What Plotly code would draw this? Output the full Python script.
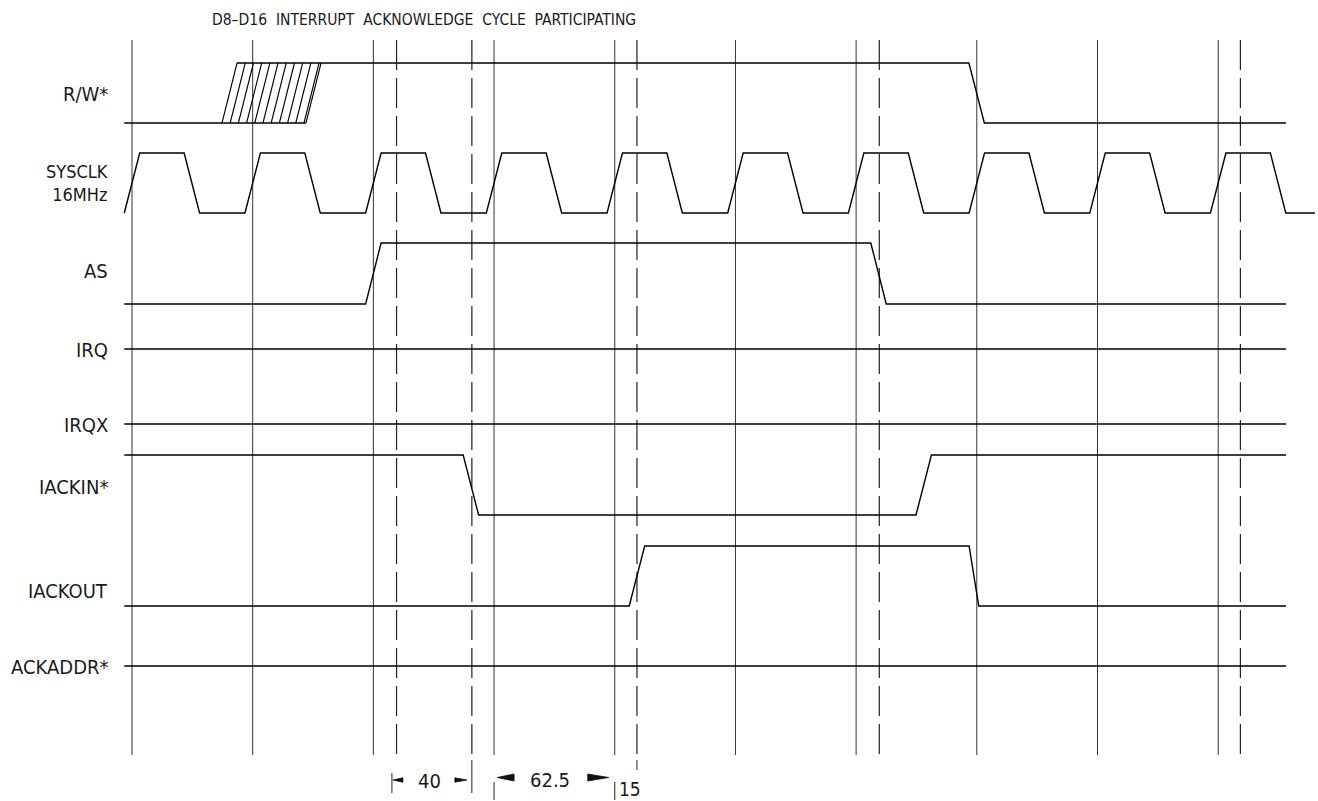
import plotly.graph_objects as go

# ---------------- data (times in ns, 16 MHz clock = 62.5 ns period) ----------------
title_text = "D8\u2013D16  INTERRUPT  ACKNOWLEDGE  CYCLE  PARTICIPATING"
signal_labels = ["R/W*", "SYSCLK<br>16MHz", "AS", "IRQ", "IRQX", "IACKIN*", "IACKOUT", "ACKADDR*"]

clk_rise_ns = [0, 62.5, 125, 187.5, 250, 312.5, 375, 437.5, 500, 562.5]
clk_fall_ns = [31, 93.5, 156, 218.5, 281, 343.5, 406, 468.5, 531, 593.5]

solid_marker_ns = [0, 62.5, 125, 187.5, 250, 312.5, 375, 437.5, 500, 562.5]
dashed_marker_ns = [137, 176, 261.5, 387, 574]

rw_undefined_ns = [46.6, 90.1]     # hatched (don't care) transition, low side
rw_edges_ns = [437.4]              # high -> low
as_edges_ns = [125, 386.6]         # low -> high -> low
iackin_edges_ns = [175.5, 410]     # high -> low -> high
iackout_edges_ns = [261.5, 436]    # low -> high -> low

dim_tick_ns = [134.6, 176, 187.5, 250, 261.5]
dim_labels = ["40", "62.5", "15"]

# ---------------- layout / style ----------------
W, H = 1318, 801
PX0 = 132.0          # pixel of t = 0
PXNS = 1.931         # pixels per ns
T_START, T_END, T_CLK_END = -4.0, 597.6, 612.6
EDGE = 8.0
SKEW = 7.8

rows = {              # (low level, high level) in page pixels
    "R/W*": (123, 63),
    "SYSCLK": (213, 153),
    "AS": (304, 243),
    "IRQ": (349, 349),
    "IRQX": (424, 424),
    "IACKIN*": (515, 455),
    "IACKOUT": (606, 546),
    "ACKADDR*": (666, 666),
}
label_y = {"R/W*": 94, "SYSCLK<br>16MHz": 183, "AS": 271, "IRQ": 350,
           "IRQX": 425, "IACKIN*": 486.5, "IACKOUT": 590.5, "ACKADDR*": 666.5}
label_size = {"SYSCLK<br>16MHz": 18}

FONT = "Liberation Sans Narrow, DejaVu Sans Condensed, Arial Narrow, Liberation Sans, sans-serif"
SIG = dict(color="#000000", width=1.4)
TXT = "#1a1a1a"


def lvl(name, state):
    lo, hi = rows[name]
    return lo - state * (lo - hi)


def wave(name, init, edges, widths=None):
    if widths is None:
        widths = [EDGE] * len(edges)
    xs, ys = [T_START], [lvl(name, init)]
    st = init
    for c, w in zip(edges, widths):
        xs += [c - w / 2, c + w / 2]
        ys += [lvl(name, st), lvl(name, 1 - st)]
        st = 1 - st
    xs.append(T_END)
    ys.append(lvl(name, st))
    return xs, ys


def px2ns(dpx):
    return dpx / PXNS


fig = go.Figure()

# vertical reference lines
vx, vy = [], []
for t in solid_marker_ns:
    vx += [t, t, None]
    vy += [40, 755, None]
fig.add_trace(go.Scatter(x=vx, y=vy, mode="lines", line=dict(color="#333333", width=1),
                         hoverinfo="skip", showlegend=False))
dx, dy = [], []
for t in dashed_marker_ns:
    dx += [t, t, None]
    dy += [40, 755, None]
fig.add_trace(go.Scatter(x=dx, y=dy, mode="lines",
                         line=dict(color="#222222", width=1.2, dash="30px,8px"),
                         hoverinfo="skip", showlegend=False))

# R/W*
b0, b1 = rw_undefined_ns
rx = [T_START, b1, None, b0 + SKEW, rw_edges_ns[0] - EDGE / 2, rw_edges_ns[0] + EDGE / 2, T_END]
ry = [lvl("R/W*", 0), lvl("R/W*", 0), None, lvl("R/W*", 1), lvl("R/W*", 1), lvl("R/W*", 0), lvl("R/W*", 0)]
fig.add_trace(go.Scatter(x=rx, y=ry, mode="lines", line=SIG, hoverinfo="skip", showlegend=False))
hx, hy = [], []
step = px2ns(8.2)
b = b0
while b < b1 - 1:
    hx += [b, b + SKEW, None]
    hy += [lvl("R/W*", 0), lvl("R/W*", 1), None]
    b += step
hx += [b1, b1 + SKEW, None]
hy += [lvl("R/W*", 0), lvl("R/W*", 1), None]
fig.add_trace(go.Scatter(x=hx, y=hy, mode="lines", line=dict(color="#000000", width=1.1),
                         hoverinfo="skip", showlegend=False))

# SYSCLK
cx, cy = [], []
for r, f in zip(clk_rise_ns, clk_fall_ns):
    cx += [r - EDGE / 2, r + EDGE / 2, f - EDGE / 2, f + EDGE / 2]
    cy += [lvl("SYSCLK", 0), lvl("SYSCLK", 1), lvl("SYSCLK", 1), lvl("SYSCLK", 0)]
cx.append(T_CLK_END)
cy.append(lvl("SYSCLK", 0))
fig.add_trace(go.Scatter(x=cx, y=cy, mode="lines", line=SIG, hoverinfo="skip", showlegend=False))

# other signals
for name, init, edges, widths in [
    ("AS", 0, as_edges_ns, None),
    ("IRQ", 0, [], None),
    ("IRQX", 0, [], None),
    ("IACKIN*", 1, iackin_edges_ns, None),
    ("IACKOUT", 0, iackout_edges_ns, [EDGE, 5]),
    ("ACKADDR*", 0, [], None),
]:
    xs, ys = wave(name, init, edges, widths)
    fig.add_trace(go.Scatter(x=xs, y=ys, mode="lines", line=SIG, hoverinfo="skip", showlegend=False))

# signal labels
label_x = px2ns(110 - PX0)
for lab in signal_labels:
    fig.add_annotation(x=label_x, y=label_y[lab], text=lab, showarrow=False,
                       xanchor="right", yanchor="middle", align="right",
                       font=dict(family=FONT, size=label_size.get(lab, 20), color=TXT))

# title
fig.add_annotation(x=px2ns(423.5 - PX0), y=19.5, text=title_text, showarrow=False,
                   xanchor="center", yanchor="middle",
                   font=dict(family=FONT, size=15.5, color=TXT))

# dimension marks at the bottom
t1, t2, t3, t4, t5 = dim_tick_ns
tx, ty = [], []
for t, ya, yb in [(t1, 773, 793), (t2, 760, 793), (t3, 782, 800), (t4, 782, 800), (t5, 760, 770)]:
    tx += [t, t, None]
    ty += [ya, yb, None]
fig.add_trace(go.Scatter(x=tx, y=ty, mode="lines", line=dict(color="#222222", width=1),
                         hoverinfo="skip", showlegend=False))


def tri(tip, base, yc, half):
    return f"M {tip},{yc} L {base},{yc - half} L {base},{yc + half} Z"


arrows = [
    (t1 + px2ns(1), t1 + px2ns(11), 780, 2.2),
    (t2 - px2ns(5), t2 - px2ns(17), 780, 2.2),
    (t3 + px2ns(3), t3 + px2ns(20), 777.5, 3.5),
    (t4 - px2ns(6), t4 - px2ns(27), 777.5, 3.5),
]
for tip, base, yc, half in arrows:
    fig.add_shape(type="path", path=tri(tip, base, yc, half), xref="x", yref="y",
                  fillcolor="#111111", line=dict(color="#111111", width=0.8))

fig.add_annotation(x=(t1 + t2) / 2 - px2ns(2), y=781, text=dim_labels[0], showarrow=False,
                   xanchor="center", yanchor="middle", font=dict(family=FONT, size=20, color=TXT))
fig.add_annotation(x=(t3 + t4) / 2 - px2ns(4), y=780, text=dim_labels[1], showarrow=False,
                   xanchor="center", yanchor="middle", font=dict(family=FONT, size=20, color=TXT))
fig.add_annotation(x=t4 + px2ns(2), y=788.5, text=dim_labels[2], showarrow=False,
                   xanchor="left", yanchor="middle", font=dict(family=FONT, size=19, color=TXT))

fig.update_layout(
    width=W, height=H,
    margin=dict(l=0, r=0, t=0, b=0, pad=0),
    paper_bgcolor="white", plot_bgcolor="white",
    xaxis=dict(range=[px2ns(-PX0), px2ns(W - PX0)], visible=False, fixedrange=True),
    yaxis=dict(range=[H, 0], visible=False, fixedrange=True),
    showlegend=False,
)

fig.write_html("out.html", config={"displayModeBar": False},
               post_script="document.body.style.margin='0';document.body.style.overflow='hidden';")
